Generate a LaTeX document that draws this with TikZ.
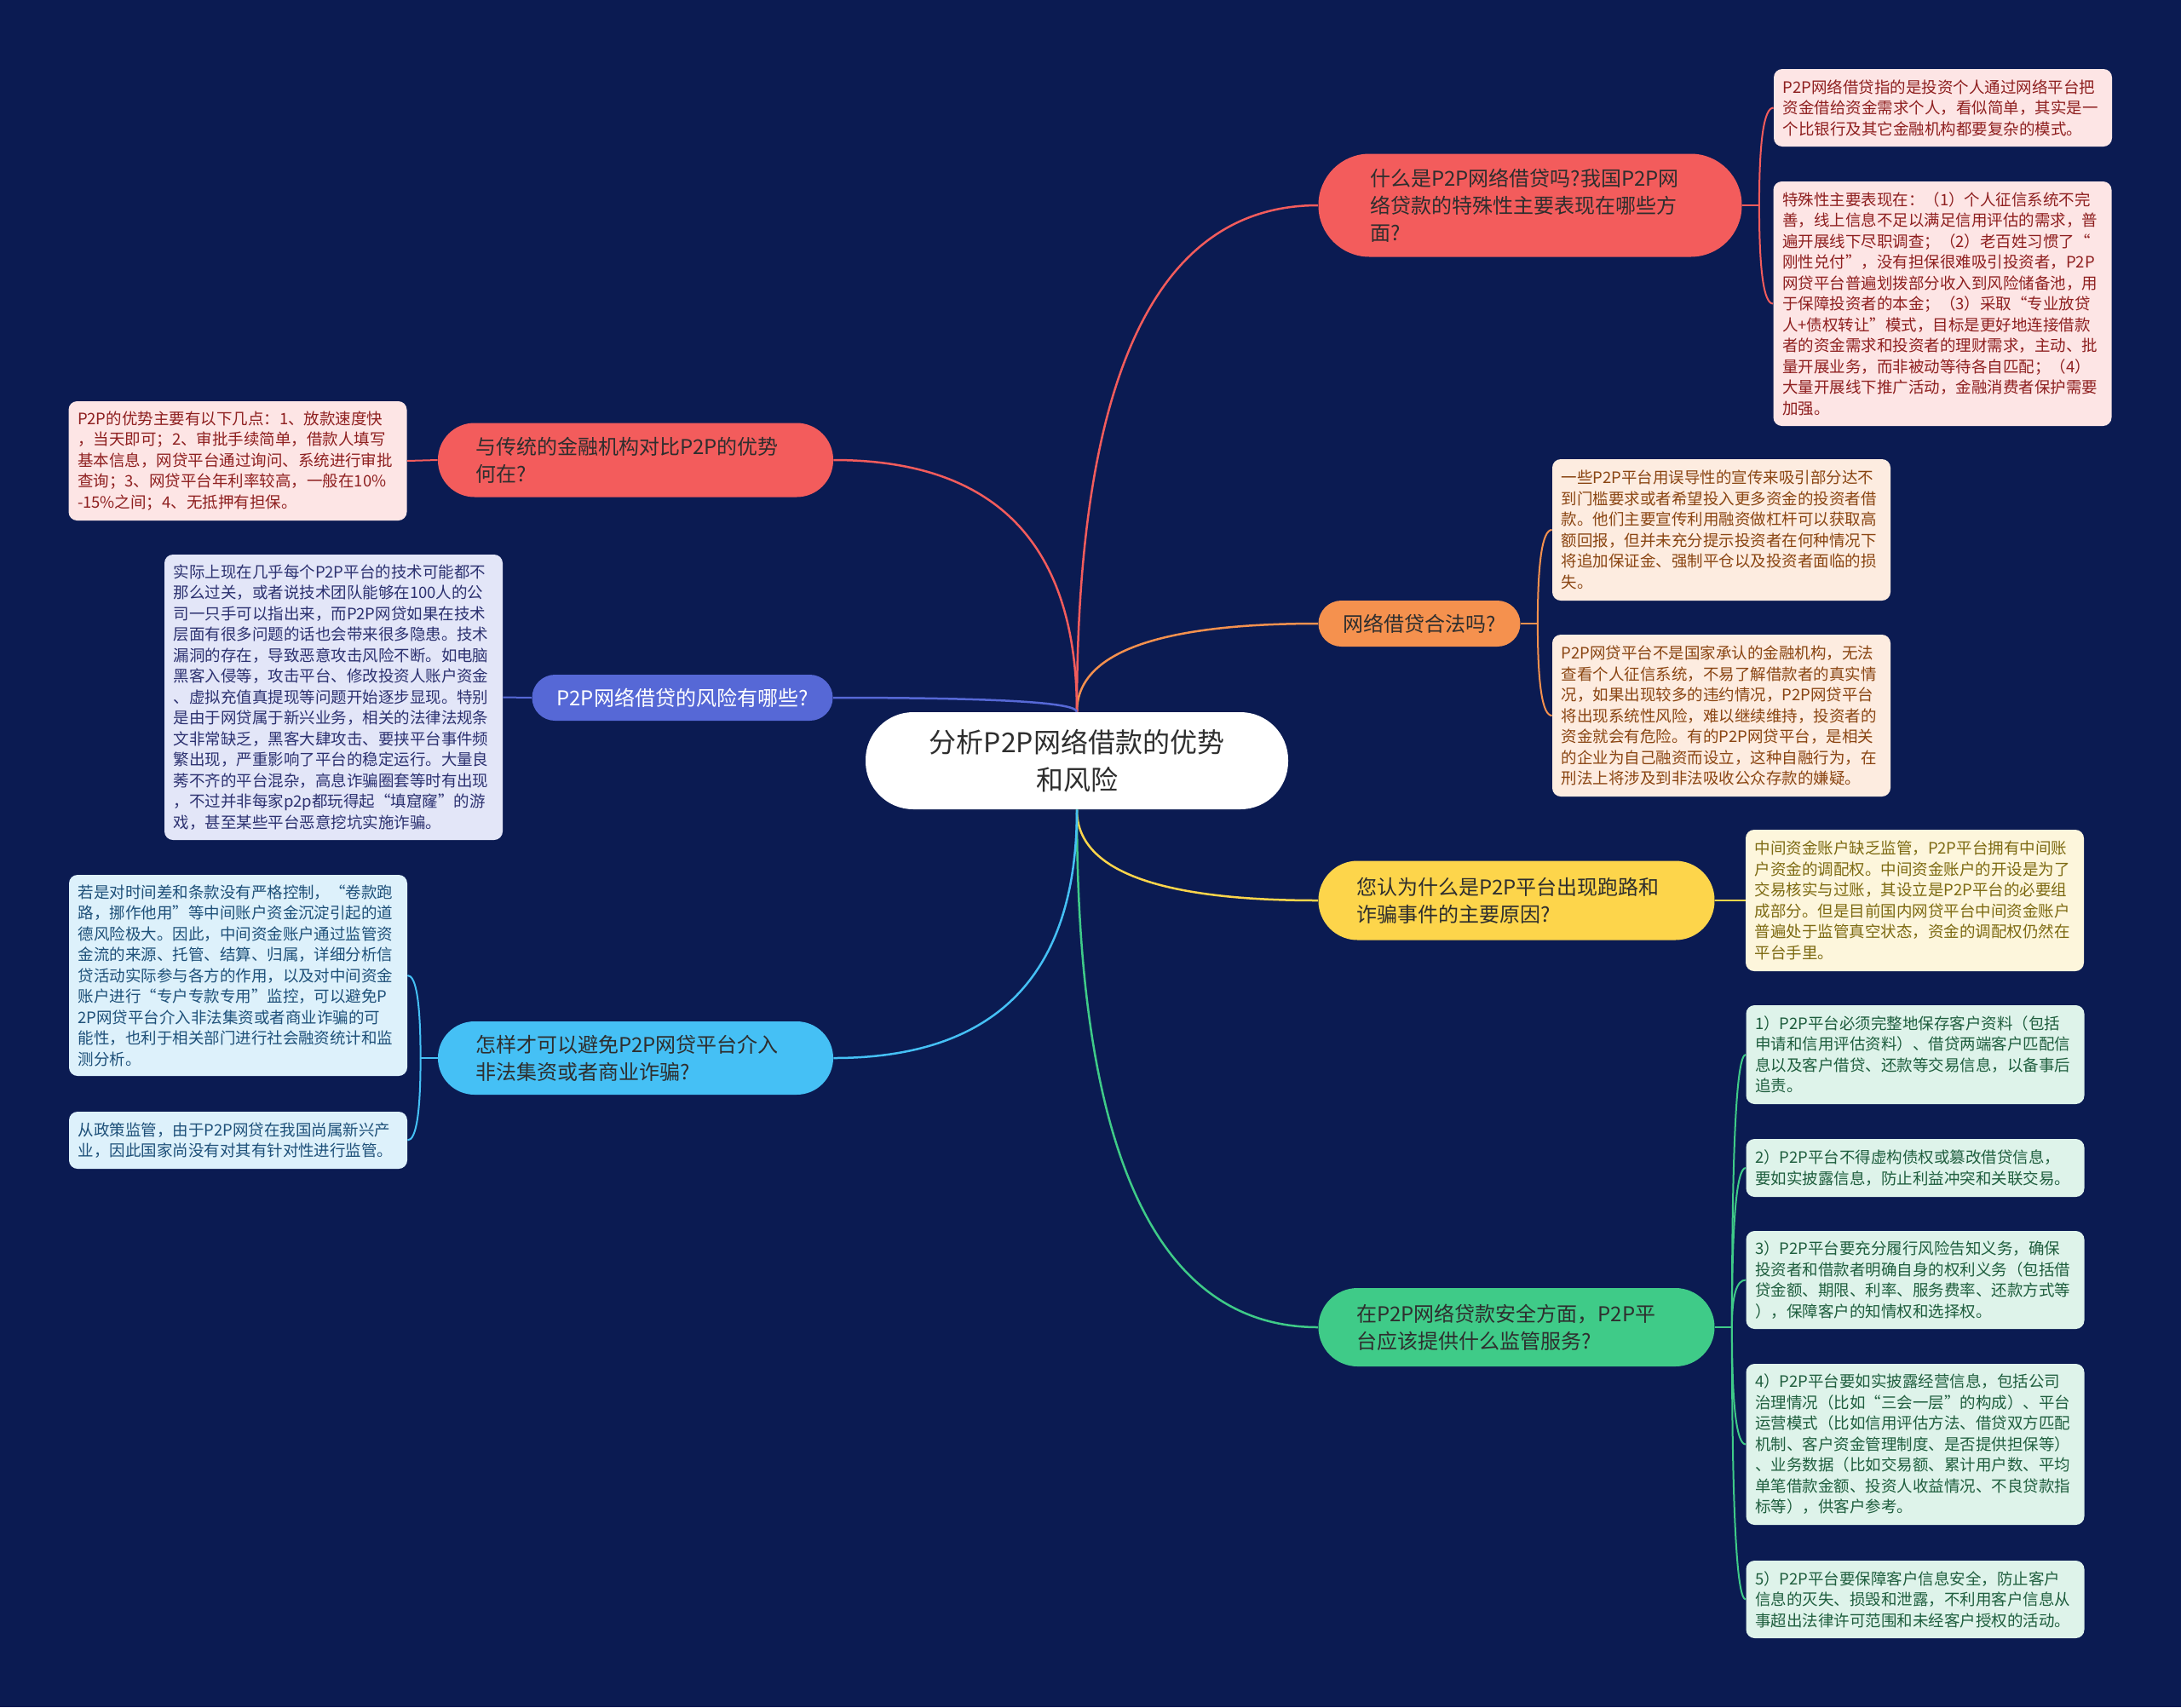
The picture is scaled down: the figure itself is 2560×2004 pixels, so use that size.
\documentclass[tikz,border=0pt]{standalone}
\usepackage{fontspec}
\setmainfont{Noto Sans CJK SC}
\usetikzlibrary{calc}
\definecolor{bg}{RGB}{11,27,82}
\definecolor{cred}{HTML}{F35C5C}
\definecolor{corange}{HTML}{F5914E}
\definecolor{cyellow}{HTML}{FDD54B}
\definecolor{cgreen}{HTML}{3FCB88}
\definecolor{cindigo}{HTML}{5668D6}
\definecolor{csky}{HTML}{45C0F5}
\definecolor{tdark}{HTML}{2E2E2E}
\definecolor{fpink}{HTML}{FDE5E5}
\definecolor{tpink}{HTML}{8E1F1F}
\definecolor{fpeach}{HTML}{FDECE0}
\definecolor{tpeach}{HTML}{8A4512}
\definecolor{fcream}{HTML}{FDF6DC}
\definecolor{tcream}{HTML}{7D6A12}
\definecolor{fmint}{HTML}{DEF3EA}
\definecolor{tmint}{HTML}{1F5E3E}
\definecolor{flav}{HTML}{E3E6F8}
\definecolor{tlav}{HTML}{2C3170}
\definecolor{fsky}{HTML}{DDF1FB}
\definecolor{tsky}{HTML}{1E5079}
\newcommand\leaffont{\fontsize{9.25pt}{12.25pt}\selectfont}
\newcommand\branchfont{\fontsize{12pt}{16pt}\selectfont}
\newcommand\rootfont{\fontsize{16pt}{22pt}\selectfont}
\newcommand\mmlink[3]{\draw[#1] (#2) .. controls ($(#2)!0.667!(#2|-#3)$) and ($(#3)!0.667!(#2|-#3)$) .. (#3);}
\tikzset{
  rootnode/.style={fill=white, text=tdark, font=\rootfont, align=center, minimum width=248pt, minimum height=57pt, rounded corners=28pt, inner sep=0pt},
  br/.style={font=\branchfont, text=tdark, inner sep=0pt},
  leaf/.style={font=\leaffont, align=left, text width=188pt, minimum width=198.5pt, inner xsep=5.25pt, inner ysep=0pt, rounded corners=5pt},
  link/.style={line width=1.25pt},
  sublink/.style={line width=1pt},
}
\begin{document}
\begin{tikzpicture}[x=0.5pt,y=-0.5pt]
\fill[bg] (0,0) rectangle (2560,2004);
\useasboundingbox (0,0) rectangle (2560,2004);

% root
\node[rootnode] (c) at (1264,893) {分析P2P网络借款的优势\\和风险};

% branches
\node[br, fill=cred, minimum width=248.5pt, minimum height=60.5pt, rounded corners=30pt, text width=188pt, align=left] (r1) at (1796,241) {什么是P2P网络借贷吗?我国P2P网\\络贷款的特殊性主要表现在哪些方\\面?};
\node[br, fill=corange, minimum width=118.5pt, minimum height=27pt, rounded corners=13.5pt] (r2) at (1666,732) {网络借贷合法吗?};
\node[br, fill=cyellow, minimum width=232.5pt, minimum height=46.5pt, rounded corners=23pt, text width=188pt, align=left] (r3) at (1780,1057) {您认为什么是P2P平台出现跑路和\\诈骗事件的主要原因?};
\node[br, fill=cgreen, minimum width=232.5pt, minimum height=46pt, rounded corners=23pt, text width=188pt, align=left] (r4) at (1780,1558) {在P2P网络贷款安全方面，P2P平\\台应该提供什么监管服务?};
\node[br, fill=cred, minimum width=232pt, minimum height=43.5pt, rounded corners=21.5pt, text width=188pt, align=left] (l1) at (746,540) {与传统的金融机构对比P2P的优势\\何在?};
\node[br, fill=cindigo, text=white, minimum width=176.5pt, minimum height=27pt, rounded corners=13.5pt] (l2) at (801,819) {P2P网络借贷的风险有哪些?};
\node[br, fill=csky, minimum width=232pt, minimum height=43pt, rounded corners=21.5pt, text width=188pt, align=left] (l3) at (746,1242) {怎样才可以避免P2P网贷平台介入\\非法集资或者商业诈骗?};

% leaves
\node[leaf, fill=fpink, text=tpink, minimum height=45.5pt] (a1) at (2280.5,126.5) {P2P网络借贷指的是投资个人通过网络平台把\\资金借给资金需求个人，看似简单，其实是一\\个比银行及其它金融机构都要复杂的模式。};
\node[leaf, fill=fpink, text=tpink, minimum height=143.5pt] (a2) at (2280,356.5) {特殊性主要表现在：（1）个人征信系统不完\\善，线上信息不足以满足信用评估的需求，普\\遍开展线下尽职调查；（2）老百姓习惯了“\\刚性兑付”，没有担保很难吸引投资者，P2P\\网贷平台普遍划拨部分收入到风险储备池，用\\于保障投资者的本金；（3）采取“专业放贷\\人+债权转让”模式，目标是更好地连接借款\\者的资金需求和投资者的理财需求，主动、批\\量开展业务，而非被动等待各自匹配；（4）\\大量开展线下推广活动，金融消费者保护需要\\加强。};
\node[leaf, fill=fpeach, text=tpeach, minimum height=83pt] (b1) at (2020.5,622) {一些P2P平台用误导性的宣传来吸引部分达不\\到门槛要求或者希望投入更多资金的投资者借\\款。他们主要宣传利用融资做杠杆可以获取高\\额回报，但并未充分提示投资者在何种情况下\\将追加保证金、强制平仓以及投资者面临的损\\失。};
\node[leaf, fill=fpeach, text=tpeach, minimum height=95pt] (b2) at (2020.5,840) {P2P网贷平台不是国家承认的金融机构，无法\\查看个人征信系统，不易了解借款者的真实情\\况，如果出现较多的违约情况，P2P网贷平台\\将出现系统性风险，难以继续维持，投资者的\\资金就会有危险。有的P2P网贷平台，是相关\\的企业为自己融资而设立，这种自融行为，在\\刑法上将涉及到非法吸收公众存款的嫌疑。};
\node[leaf, fill=fcream, text=tcream, minimum height=83pt] (c1) at (2247.5,1057) {中间资金账户缺乏监管，P2P平台拥有中间账\\户资金的调配权。中间资金账户的开设是为了\\交易核实与过账，其设立是P2P平台的必要组\\成部分。但是目前国内网贷平台中间资金账户\\普遍处于监管真空状态，资金的调配权仍然在\\平台手里。};
\node[leaf, fill=fmint, text=tmint, minimum height=58pt] (d1) at (2248,1238) {1）P2P平台必须完整地保存客户资料（包括\\申请和信用评估资料）、借贷两端客户匹配信\\息以及客户借贷、还款等交易信息，以备事后\\追责。};
\node[leaf, fill=fmint, text=tmint, minimum height=34pt] (d2) at (2248,1371) {2）P2P平台不得虚构债权或篡改借贷信息，\\要如实披露信息，防止利益冲突和关联交易。};
\node[leaf, fill=fmint, text=tmint, minimum height=57.5pt] (d3) at (2248,1502.5) {3）P2P平台要充分履行风险告知义务，确保\\投资者和借款者明确自身的权利义务（包括借\\贷金额、期限、利率、服务费率、还款方式等\\），保障客户的知情权和选择权。};
\node[leaf, fill=fmint, text=tmint, minimum height=94.5pt] (d4) at (2248,1695.5) {4）P2P平台要如实披露经营信息，包括公司\\治理情况（比如“三会一层”的构成）、平台\\运营模式（比如信用评估方法、借贷双方匹配\\机制、客户资金管理制度、是否提供担保等）\\、业务数据（比如交易额、累计用户数、平均\\单笔借款金额、投资人收益情况、不良贷款指\\标等），供客户参考。};
\node[leaf, fill=fmint, text=tmint, minimum height=45.5pt] (d5) at (2248,1877.5) {5）P2P平台要保障客户信息安全，防止客户\\信息的灭失、损毁和泄露，不利用客户信息从\\事超出法律许可范围和未经客户授权的活动。};
\node[leaf, fill=fpink, text=tpink, minimum height=70pt] (e1) at (279,541) {P2P的优势主要有以下几点：1、放款速度快\\，当天即可；2、审批手续简单，借款人填写\\基本信息，网贷平台通过询问、系统进行审批\\查询；3、网贷平台年利率较高，一般在10\%\\-15\%之间；4、无抵押有担保。};
\node[leaf, fill=flav, text=tlav, minimum height=167.5pt] (f1) at (391.5,818.5) {实际上现在几乎每个P2P平台的技术可能都不\\那么过关，或者说技术团队能够在100人的公\\司一只手可以指出来，而P2P网贷如果在技术\\层面有很多问题的话也会带来很多隐患。技术\\漏洞的存在，导致恶意攻击风险不断。如电脑\\黑客入侵等，攻击平台、修改投资人账户资金\\、虚拟充值真提现等问题开始逐步显现。特别\\是由于网贷属于新兴业务，相关的法律法规条\\文非常缺乏，黑客大肆攻击、要挟平台事件频\\繁出现，严重影响了平台的稳定运行。大量良\\莠不齐的平台混杂，高息诈骗圈套等时有出现\\，不过并非每家p2p都玩得起“填窟窿”的游\\戏，甚至某些平台恶意挖坑实施诈骗。};
\node[leaf, fill=fsky, text=tsky, minimum height=118pt] (g1) at (279.5,1145) {若是对时间差和条款没有严格控制，“卷款跑\\路，挪作他用”等中间账户资金沉淀引起的道\\德风险极大。因此，中间资金账户通过监管资\\金流的来源、托管、结算、归属，详细分析信\\贷活动实际参与各方的作用，以及对中间资金\\账户进行“专户专款专用”监控，可以避免P\\2P网贷平台介入非法集资或者商业诈骗的可\\能性，也利于相关部门进行社会融资统计和监\\测分析。};
\node[leaf, fill=fsky, text=tsky, minimum height=33.5pt] (g2) at (279.5,1338.5) {从政策监管，由于P2P网贷在我国尚属新兴产\\业，因此国家尚没有对其有针对性进行监管。};

% root connectors
\mmlink{link, cred}{c.north}{r1.west}
\mmlink{link, corange}{c.north}{r2.west}
\mmlink{link, cyellow}{c.south}{r3.west}
\mmlink{link, cgreen}{c.south}{r4.west}
\mmlink{link, cred}{c.north}{l1.east}
\mmlink{link, cindigo}{c.north}{l2.east}
\mmlink{link, csky}{c.south}{l3.east}

% stubs
\coordinate (r1s) at ($(r1.east)+(20,0)$);
\coordinate (r2s) at ($(r2.east)+(20,0)$);
\coordinate (r4s) at ($(r4.east)+(20,0)$);
\coordinate (l3s) at ($(l3.west)+(-20,0)$);
\draw[sublink, cred] (r1.east) -- (r1s);
\draw[sublink, corange] (r2.east) -- (r2s);
\draw[sublink, cgreen] (r4.east) -- (r4s);
\draw[sublink, csky] (l3.west) -- (l3s);

\mmlink{sublink, cred}{r1s}{a1.west}
\mmlink{sublink, cred}{r1s}{a2.west}
\mmlink{sublink, corange}{r2s}{b1.west}
\mmlink{sublink, corange}{r2s}{b2.west}
\draw[sublink, cyellow] (r3.east) -- (c1.west);
\mmlink{sublink, cgreen}{r4s}{d1.west}
\mmlink{sublink, cgreen}{r4s}{d2.west}
\mmlink{sublink, cgreen}{r4s}{d3.west}
\mmlink{sublink, cgreen}{r4s}{d4.west}
\mmlink{sublink, cgreen}{r4s}{d5.west}
\draw[sublink, cred] (l1.west) -- (e1.east);
\draw[sublink, cindigo] (l2.west) -- (f1.east);
\mmlink{sublink, csky}{l3s}{g1.east}
\mmlink{sublink, csky}{l3s}{g2.east}
\end{tikzpicture}
\end{document}
